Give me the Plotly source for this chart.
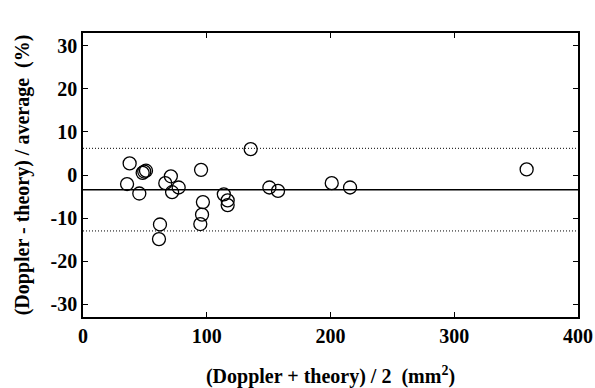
import plotly.graph_objects as go

# Data (Bland-Altman plot)
avg_area = [35.6, 37.7, 45.5, 48.2, 49.5, 50.9, 66.5, 71.0, 72.0, 77.3,
            95.4, 96.9, 113.8, 116.9, 116.9, 135.5, 150.6, 157.6,
            62.2, 61.4, 96.2, 94.8, 201.0, 215.8, 358.5]
pct_diff = [-2.1, 2.7, -4.3, 0.5, 0.8, 1.0, -1.9, -0.3, -4.0, -2.9,
            1.2, -6.3, -4.5, -5.9, -7.0, 6.0, -2.9, -3.7,
            -11.5, -14.9, -9.2, -11.4, -1.9, -2.9, 1.3]

mean_diff = -3.4
upper_limit = 6.2
lower_limit = -13.0

x_ticks = [0, 100, 200, 300, 400]
y_ticks = [-30, -20, -10, 0, 10, 20, 30]

font_family = "Liberation Serif"

fig = go.Figure()
fig.add_trace(go.Scatter(
    x=avg_area, y=pct_diff, mode="markers",
    marker=dict(symbol="circle-open", size=13, color="black",
                line=dict(width=1.3, color="black")),
    showlegend=False, cliponaxis=False))

fig.add_shape(type="line", xref="paper", x0=0, x1=1, yref="y",
              y0=mean_diff, y1=mean_diff, line=dict(color="black", width=1.5))
for lim in (upper_limit, lower_limit):
    fig.add_shape(type="line", xref="paper", x0=0, x1=1, yref="y",
                  y0=lim, y1=lim, line=dict(color="black", width=1, dash="1px,2px"))

axis_common = dict(showline=True, linecolor="black", linewidth=1.5,
                   mirror="ticks", ticks="inside", ticklen=5, tickcolor="black",
                   tickwidth=1.2, showgrid=False, zeroline=False, automargin=False,
                   tickfont=dict(family=font_family, size=20, color="black"))

fig.update_xaxes(range=[0, 400], tickvals=x_ticks,
                 ticktext=["<b>%d</b>" % v for v in x_ticks],
                 title=dict(text="<b>(Doppler + theory) / 2  (mm<sup>2</sup>)</b>",
                            font=dict(family=font_family, size=20, color="black"),
                            standoff=27),
                 **axis_common)
fig.update_yaxes(range=[-33, 33], tickvals=y_ticks,
                 ticktext=["<b>%d</b>" % v for v in y_ticks],
                 title=dict(text="<b>(Doppler - theory) / average  (%)</b>",
                            font=dict(family=font_family, size=20, color="black"),
                            standoff=16),
                 **axis_common)

fig.update_layout(width=595, height=388, margin=dict(l=83, r=17, t=33, b=71),
                  plot_bgcolor="white", paper_bgcolor="white")

fig.write_html("out.html")
